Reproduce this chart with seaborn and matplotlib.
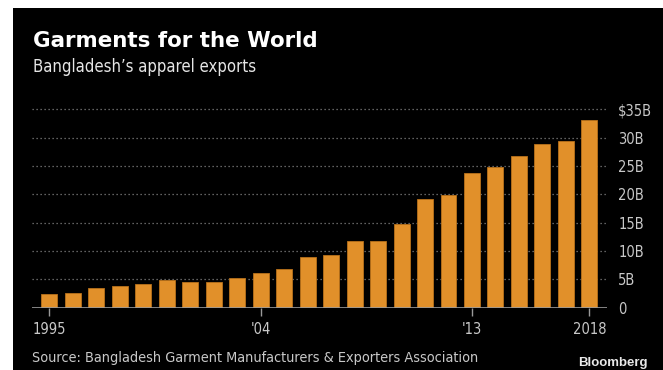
import matplotlib
matplotlib.use("Agg")
import matplotlib.pyplot as plt
from matplotlib.patches import Rectangle
from matplotlib import font_manager
import seaborn as sns
import pandas as pd

years = list(range(1995, 2019))
exports_bn = [2.4, 2.6, 3.4, 3.9, 4.1, 4.8, 4.5, 4.5, 5.3, 6.1, 6.9, 9.0,
              9.3, 11.8, 11.8, 14.8, 19.2, 19.8, 23.7, 24.9, 26.7, 28.8,
              29.4, 33.1]
xtick_years = [1995, 2004, 2013, 2018]
xtick_labels = ["1995", "'04", "'13", "2018"]
ytick_vals = [0, 5, 10, 15, 20, 25, 30, 35]
ytick_labels = ["0", "5B", "10B", "15B", "20B", "25B", "30B", "$35B"]

title = "Garments for the World"
subtitle = "Bangladesh\u2019s apparel exports"
source = "Source: Bangladesh Garment Manufacturers & Exporters Association"

df = pd.DataFrame({"year": years, "value": exports_bn})

sns.set_style("dark")
plt.rcParams["font.family"] = ["DejaVu Sans"]

has_cond = any(("Condensed" in f.fname) for f in font_manager.fontManager.ttflist)
stretch = "condensed" if has_cond else "normal"

W, H = 663, 370
fig = plt.figure(figsize=(W / 100, H / 100), dpi=100, facecolor="white")
fig.patches.append(Rectangle((13 / W, 0), 1, 1 - 8 / H, transform=fig.transFigure,
                             facecolor="black", edgecolor="none", zorder=-5))

ax = fig.add_axes([31.7 / W, (H - 307.7) / H, (607 - 31.7) / W, (307.7 - 109.3) / H])
ax.set_zorder(2)
ax.set_facecolor("black")
ax.patch.set_alpha(0)

sns.barplot(data=df, x="year", y="value", color="#e1902a", saturation=1,
            width=0.68, edgecolor="#b8711a", linewidth=0.6, ax=ax, zorder=3)

ax.set_xlim(-0.75, len(years) - 0.25)
ax.set_ylim(0, 35)
ax.set_xlabel("")
ax.set_ylabel("")

for s in ax.spines.values():
    s.set_visible(False)
ax.axhline(0, color="#9a9a9a", lw=1.2, zorder=4)
for v in ytick_vals[1:]:
    ax.axhline(v, color="#808080", lw=0.9, ls=(0, (1, 2.2)), zorder=1, clip_on=False)
ax.grid(False)

xpos = [years.index(y) for y in xtick_years]
ax.set_xticks(xpos)
ax.set_xticklabels(xtick_labels)
ax.tick_params(axis="x", direction="out", length=6, width=1, color="#9a9a9a",
               colors="#c8c8c8", labelsize=10.5, pad=4, bottom=True)
ax.yaxis.tick_right()
ax.set_yticks(ytick_vals)
ax.set_yticklabels(ytick_labels)
ax.tick_params(axis="y", length=0, colors="#c8c8c8", labelsize=10.5, pad=8, right=False)
for lab in ax.get_xticklabels() + ax.get_yticklabels():
    lab.set_fontstretch(stretch)
    lab.set_color("#c8c8c8")

fig.text(33 / W, 1 - 46.7 / H, title, color="white", fontsize=15.4, fontweight="bold",
         va="baseline", ha="left")
fig.text(33 / W, 1 - 72 / H, subtitle, color="#e6e6e6", fontsize=12,
         fontstretch=stretch, va="baseline", ha="left")
fig.text(32 / W, 1 - 362 / H, source, color="#c8c8c8", fontsize=10.4,
         fontstretch=stretch, va="baseline", ha="left")
fig.text(648 / W, 1 - 366 / H, "Bloomberg", color="#e8e8e8", fontsize=9.5,
         fontweight="bold", family=["Liberation Sans", "DejaVu Sans"],
         va="baseline", ha="right")

fig.savefig("out.png", dpi=100, facecolor=fig.get_facecolor())
